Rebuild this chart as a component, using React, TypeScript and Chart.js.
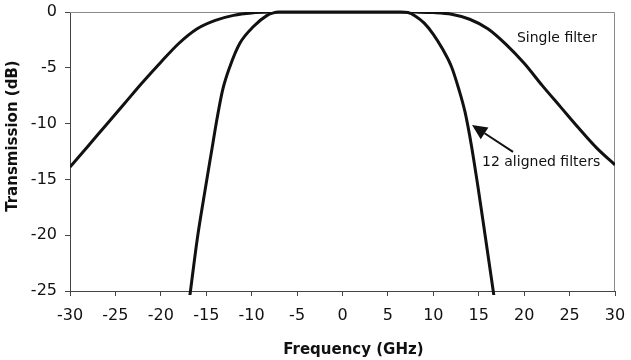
import React, { useEffect, useRef } from "react";
import { Chart, registerables } from "chart.js";

Chart.register(...registerables);

const singleX = [-30, -28, -26, -24, -22, -20, -18, -16, -14, -12, -10, -8, -6, 0, 6, 8, 10, 12, 14, 16, 18, 20, 22, 24, 26, 28, 30];
const singleY = [-13.9, -12.0, -10.1, -8.2, -6.3, -4.5, -2.8, -1.5, -0.75, -0.3, -0.08, -0.01, 0, 0, 0, -0.01, -0.05, -0.2, -0.65, -1.5, -2.9, -4.6, -6.6, -8.5, -10.4, -12.2, -13.7];

const alignedX = [-16.8, -16.0, -15.3, -14.4, -13.8, -13.2, -12.4, -11.3, -9.8, -8.3, -7.6, -7.0, -6.2, 0, 6.4, 7.2, 8.0, 9.0, 10.0, 11.0, 12.0, 12.8, 13.5, 14.2, 14.9, 15.7, 16.7];
const alignedY = [-25.4, -20.4, -16.8, -12.4, -9.5, -7.0, -4.9, -2.8, -1.3, -0.3, -0.08, -0.01, 0, 0, 0, -0.05, -0.35, -1.0, -2.0, -3.3, -4.9, -6.9, -9.0, -12.0, -15.6, -20.0, -25.6];

const xTicks = [-30, -25, -20, -15, -10, -5, 0, 5, 10, 15, 20, 25, 30];
const yTicks = [0, -5, -10, -15, -20, -25];

const xTitle = "Frequency (GHz)";
const yTitle = "Transmission (dB)";
const label1 = { text: "Single filter", x: 19.2, y: -2.33 };
const label2 = { text: "12 aligned filters", x: 15.36, y: -13.44 };
const arrowTip = { x: 14.26, y: -10.13 };
const arrowTail = { x: 18.77, y: -12.54 };

const FONT = "'DejaVu Sans', sans-serif";

const decorPlugin = {
  id: "decor",
  beforeDatasetsDraw(chart: any) {
    const { ctx, chartArea } = chart;
    ctx.save();
    ctx.strokeStyle = "#8a8a8a";
    ctx.lineWidth = 1;
    ctx.beginPath();
    ctx.moveTo(chartArea.left, chartArea.top + 0.5);
    ctx.lineTo(chartArea.right - 0.5, chartArea.top + 0.5);
    ctx.lineTo(chartArea.right - 0.5, chartArea.bottom);
    ctx.stroke();
    ctx.restore();
  },
  afterDraw(chart: any) {
    const { ctx, scales, width, height } = chart;
    const xs = scales.x;
    const ys = scales.y;
    ctx.save();
    ctx.fillStyle = "#111";
    ctx.font = `14px ${FONT}`;
    ctx.textBaseline = "middle";
    ctx.textAlign = "left";
    ctx.fillText(label1.text, xs.getPixelForValue(label1.x), ys.getPixelForValue(label1.y));
    ctx.fillText(label2.text, xs.getPixelForValue(label2.x), ys.getPixelForValue(label2.y));

    // arrow
    const tx = xs.getPixelForValue(arrowTip.x);
    const ty = ys.getPixelForValue(arrowTip.y);
    const sx = xs.getPixelForValue(arrowTail.x);
    const sy = ys.getPixelForValue(arrowTail.y);
    const ang = Math.atan2(ty - sy, tx - sx);
    const headLen = 15;
    const headW = 7;
    const bx = tx - headLen * Math.cos(ang);
    const by = ty - headLen * Math.sin(ang);
    ctx.strokeStyle = "#111";
    ctx.lineWidth = 2;
    ctx.beginPath();
    ctx.moveTo(sx, sy);
    ctx.lineTo(bx, by);
    ctx.stroke();
    ctx.beginPath();
    ctx.moveTo(tx, ty);
    ctx.lineTo(bx + headW * Math.sin(ang), by - headW * Math.cos(ang));
    ctx.lineTo(bx - headW * Math.sin(ang), by + headW * Math.cos(ang));
    ctx.closePath();
    ctx.fill();

    // axis titles
    ctx.font = `bold 15px ${FONT}`;
    ctx.textAlign = "center";
    ctx.textBaseline = "middle";
    ctx.fillText(xTitle, width * 0.56, height - 10);
    ctx.translate(13, height * 0.378);
    ctx.rotate(-Math.PI / 2);
    ctx.fillText(yTitle, 0, 0);
    ctx.restore();
  },
};

export default function App() {
  const ref = useRef<HTMLCanvasElement | null>(null);
  useEffect(() => {
    document.body.style.margin = "0";
    const canvas = ref.current;
    if (!canvas) return;
    const toPts = (xs: number[], ys: number[]) => xs.map((x, i) => ({ x, y: ys[i] }));
    const chart = new Chart(canvas, {
      type: "line",
      data: {
        datasets: [
          {
            label: "Single filter",
            data: toPts(singleX, singleY),
            borderColor: "#111",
            borderWidth: 3,
            pointRadius: 0,
            cubicInterpolationMode: "monotone",
            fill: false,
          },
          {
            label: "12 aligned filters",
            data: toPts(alignedX, alignedY),
            borderColor: "#111",
            borderWidth: 3,
            pointRadius: 0,
            cubicInterpolationMode: "monotone",
            fill: false,
            clip: { left: 0, top: 4, right: 0, bottom: 4 },
          },
        ],
      } as any,
      options: {
        animation: false,
        responsive: false,
        maintainAspectRatio: false,
        layout: { padding: { top: 12, right: 16, left: 0, bottom: 0 } },
        plugins: { legend: { display: false }, tooltip: { enabled: false } },
        scales: {
          x: {
            type: "linear",
            min: -30,
            max: 30,
            afterBuildTicks: (s: any) => {
              s.ticks = xTicks.map((v) => ({ value: v }));
            },
            afterFit: (s: any) => {
              s.height = 69;
              s.paddingRight = 0;
              s.paddingLeft = 0;
            },
            ticks: {
              font: { family: FONT, size: 16 },
              color: "#111",
              padding: 10,
              maxRotation: 0,
              autoSkip: false,
            },
            grid: { display: true, drawOnChartArea: false, drawTicks: true, tickLength: 5, color: "#444" },
            border: { display: true, color: "#444", width: 1 },
          },
          y: {
            type: "linear",
            min: -25,
            max: 0,
            afterBuildTicks: (s: any) => {
              s.ticks = yTicks.map((v) => ({ value: v }));
            },
            afterFit: (s: any) => {
              s.width = 70;
              s.paddingTop = 0;
              s.paddingBottom = 0;
            },
            ticks: {
              font: { family: FONT, size: 16 },
              color: "#111",
              padding: 8,
              autoSkip: false,
            },
            grid: { display: true, drawOnChartArea: false, drawTicks: true, tickLength: 5, color: "#444" },
            border: { display: true, color: "#444", width: 1 },
          },
        },
      } as any,
      plugins: [decorPlugin],
    });
    return () => chart.destroy();
  }, []);
  return <canvas ref={ref} width={631} height={360} style={{ display: "block", width: 631, height: 360 }} />;
}
